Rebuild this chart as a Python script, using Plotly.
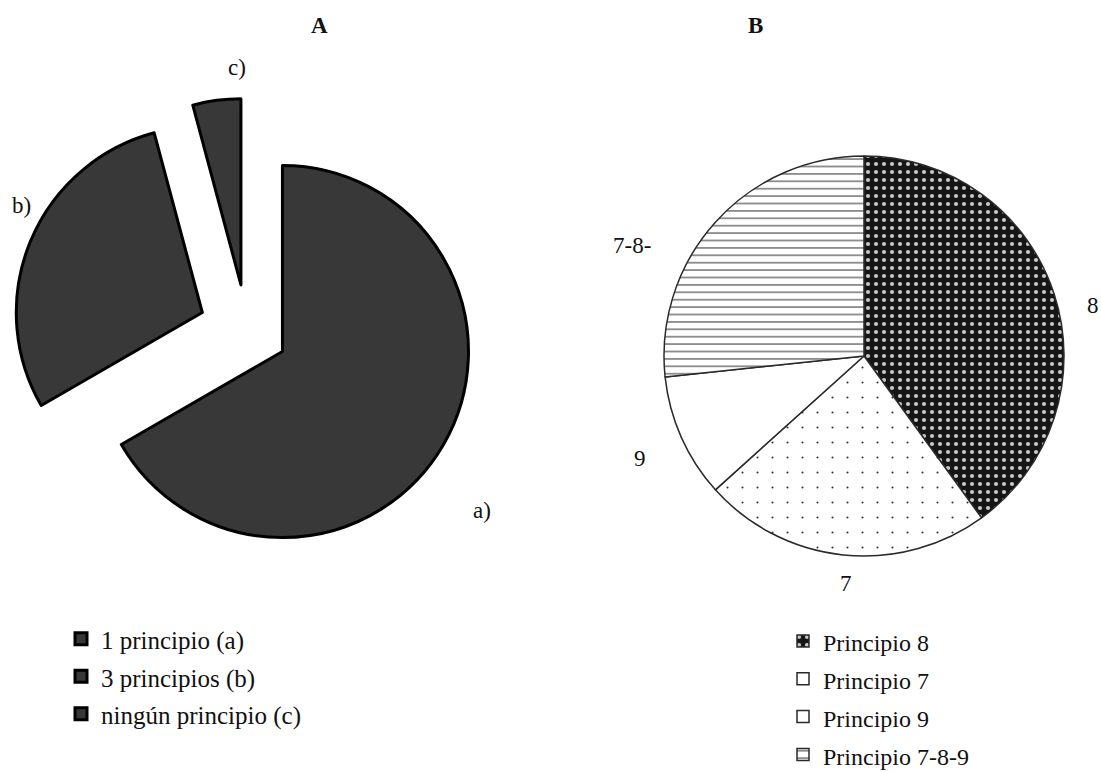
import plotly.graph_objects as go

W, H = 1101, 772
SERIF = "Liberation Serif"

# Panel A: how many principles were identified
a_labels = ["1 principio (a)", "3 principios (b)", "ningún principio (c)"]
a_counts = [16, 7, 1]
a_tags = ["a)", "b)", "c)"]
a_pull = [0.22, 0.26, 0.25]

# Panel B: which principle was identified
b_labels = ["Principio 8", "Principio 7", "Principio 9", "Principio 7-8-9"]
b_counts = [12, 7, 3, 8]
b_tags = ["8", "7", "9", "7-8-"]


def px_x(x):
    return x / W


def px_y(y):
    return 1 - y / H


def legend_text(t, size):
    # legend rows are spaced by the legend font size; the visible text is smaller
    return f'<span style="font-size:{size}px;font-family:{SERIF}">{t}</span>'


fig = go.Figure()

fig.add_trace(go.Pie(
    labels=[legend_text(t, 25) for t in a_labels],
    values=a_counts,
    sort=False,
    direction="clockwise",
    rotation=0,
    pull=a_pull,
    textinfo="none",
    hoverinfo="label+percent",
    marker=dict(colors=["#383838"] * len(a_counts),
                line=dict(color="#000000", width=3)),
    domain=dict(x=[px_x(12.6), px_x(481.4)], y=[px_y(565.4), px_y(96.6)]),
    legend="legend",
))

fig.add_trace(go.Pie(
    labels=[legend_text(t, 24) for t in b_labels],
    values=b_counts,
    sort=False,
    direction="clockwise",
    rotation=0,
    textinfo="none",
    hoverinfo="label+percent",
    marker=dict(
        colors=["#151515", "#ffffff", "#ffffff", "#ffffff"],
        line=dict(color="#2a2a2a", width=1.5),
        pattern=dict(
            shape=[".", ".", "", "-"],
            fgcolor=["#c8c8c8", "#333333", "#ffffff", "#707070"],
            bgcolor=["#151515", "#ffffff", "#ffffff", "#ffffff"],
            size=[8, 15, 8, 7.4],
            solidity=[0.22, 0.015, 0.1, 0.2],
            fillmode="replace",
        ),
    ),
    domain=dict(x=[px_x(664), px_x(1064)], y=[px_y(556), px_y(156)]),
    legend="legend2",
))

annotations = [
    dict(text="<b>A</b>", x=px_x(319), y=px_y(25)),
    dict(text="<b>B</b>", x=px_x(755), y=px_y(25)),
]
# slice tags placed around each pie
a_tag_pos = [(482, 510), (21, 205), (237, 68)]
b_tag_pos = [(1093, 305), (846, 583), (640, 458), (632, 245)]
for tag, (x, y) in zip(a_tags, a_tag_pos):
    annotations.append(dict(text=tag, x=px_x(x), y=px_y(y)))
for tag, (x, y) in zip(b_tags, b_tag_pos):
    annotations.append(dict(text=tag, x=px_x(x), y=px_y(y)))
for a in annotations:
    a.update(xref="paper", yref="paper", showarrow=False,
             xanchor="center", yanchor="middle",
             font=dict(family=SERIF, size=23, color="#111111"))

legend_style = dict(
    bgcolor="rgba(0,0,0,0)",
    borderwidth=0,
    xanchor="left",
    yanchor="top",
    orientation="v",
)

fig.update_layout(
    width=W,
    height=H,
    font=dict(family=SERIF, color="#111111"),
    margin=dict(l=0, r=0, t=0, b=0, autoexpand=False),
    paper_bgcolor="#ffffff",
    plot_bgcolor="#ffffff",
    showlegend=True,
    legend=dict(x=px_x(61), y=px_y(615),
                font=dict(family=SERIF, size=26.5, color="#111111"),
                **legend_style),
    legend2=dict(x=px_x(783), y=px_y(617),
                 font=dict(family=SERIF, size=26.8, color="#111111"),
                 **legend_style),
    annotations=annotations,
)

fig.write_html("out.html")
